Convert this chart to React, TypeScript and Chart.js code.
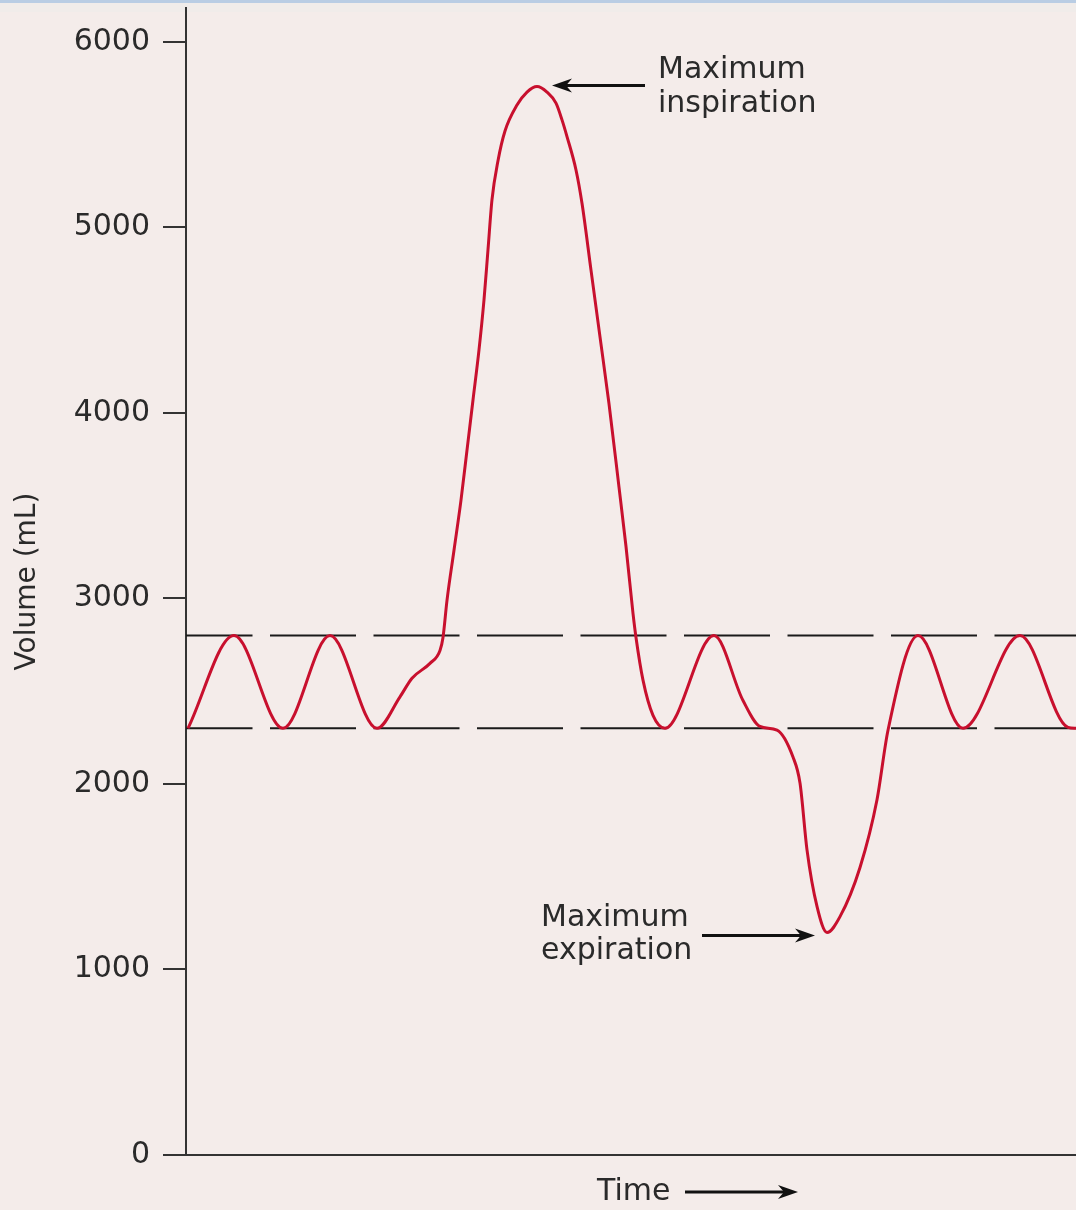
import React, { useEffect, useRef } from "react";
import { Chart, registerables } from "chart.js";

Chart.register(...registerables);

// ---- Data ----
const timeValues = [
  0.2, 4.8, 9.7, 14.4, 19.1, 21.4, 22.6, 24.4, 25.4,
  25.7, 26.1, 26.8, 27.5, 28.1, 28.7, 29.3, 29.8, 30.2, 30.6, 31.2, 31.9, 33.1, 34.1, 35.1,
  36.1, 37.0, 37.6, 38.1, 39.0, 39.6, 40.5, 41.4, 42.3, 43.3, 44.0, 44.7, 45.0, 45.7, 46.7,
  47.9, 52.8, 55.7, 57.4, 59.1, 60.7, 61.4, 62.1, 63.1,
  64.1, 65.4, 67.4, 69.1, 70.2, 73.2, 77.7, 83.4, 88.2, 89.0,
];
const volumeValues = [
  2300, 2800, 2300, 2800, 2300, 2470, 2570, 2650, 2720,
  2790, 2990, 3260, 3530, 3800, 4070, 4340, 4610, 4880, 5150, 5360, 5520, 5660, 5730, 5760,
  5730, 5670, 5580, 5490, 5310, 5130, 4770, 4410, 4050, 3600, 3280, 2920, 2790, 2560, 2370,
  2300, 2800, 2450, 2310, 2290, 2145, 2005, 1645, 1340,
  1200, 1285, 1550, 1915, 2290, 2800, 2300, 2800, 2305, 2300,
];
const tidalLevels = [2800, 2300];
const timeRange = [0, 89];
const volumeRange = [0, 6183];
const yTickValues = [0, 1000, 2000, 3000, 4000, 5000, 6000];
const yAxisTitle = "Volume (mL)";
const xAxisTitle = "Time";
const inspirationLabel = ["Maximum", "inspiration"];
const expirationLabel = ["Maximum", "expiration"];

const FONT = '"DejaVu Sans", "Liberation Sans", Arial, sans-serif';
const TEXT = "#2a2a2a";
const AXIS = "#333333";
const CURVE = "#c8102e";

function drawArrow(ctx: CanvasRenderingContext2D, x1: number, y: number, tipX: number) {
  const dir = Math.sign(tipX - x1);
  const headLen = 20;
  const half = 7;
  ctx.save();
  ctx.strokeStyle = "#111";
  ctx.fillStyle = "#111";
  ctx.lineWidth = 3;
  ctx.beginPath();
  ctx.moveTo(x1, y);
  ctx.lineTo(tipX - dir * headLen * 0.6, y);
  ctx.stroke();
  ctx.beginPath();
  ctx.moveTo(tipX, y);
  ctx.lineTo(tipX - dir * headLen, y - half);
  ctx.lineTo(tipX - dir * headLen * 0.7, y);
  ctx.lineTo(tipX - dir * headLen, y + half);
  ctx.closePath();
  ctx.fill();
  ctx.restore();
}

const annotationPlugin = {
  id: "annotations",
  afterDraw(chart: any) {
    const ctx: CanvasRenderingContext2D = chart.ctx;
    const meta = chart.getDatasetMeta(0);
    const maxIdx = volumeValues.indexOf(Math.max(...volumeValues));
    const minIdx = volumeValues.indexOf(Math.min(...volumeValues));
    const pMax = meta.data[maxIdx];
    const pMin = meta.data[minIdx];
    ctx.save();
    ctx.font = `30px ${FONT}`;
    ctx.fillStyle = TEXT;
    ctx.textBaseline = "alphabetic";
    ctx.textAlign = "left";

    // Maximum inspiration
    const tipIx = pMax.x + 15;
    const tipIy = pMax.y - 1;
    drawArrow(ctx, tipIx + 93, tipIy, tipIx);
    ctx.fillText(inspirationLabel[0], tipIx + 106, tipIy - 7);
    ctx.fillText(inspirationLabel[1], tipIx + 106, tipIy + 27);

    // Maximum expiration
    const tipEx = pMin.x - 12;
    const tipEy = pMin.y + 3;
    drawArrow(ctx, tipEx - 113, tipEy, tipEx);
    ctx.fillText(expirationLabel[0], tipEx - 274, tipEy - 9);
    ctx.fillText(expirationLabel[1], tipEx - 274, tipEy + 24);

    // Time label with arrow
    const area = chart.chartArea;
    ctx.fillText(xAxisTitle, area.left + 411, area.bottom + 45);
    drawArrow(ctx, area.left + 499, area.bottom + 37, area.left + 612);
    ctx.restore();
  },
};

export default function App() {
  const canvasRef = useRef<HTMLCanvasElement | null>(null);

  useEffect(() => {
    const canvas = canvasRef.current;
    if (!canvas) return;
    const curve = timeValues.map((t, i) => ({ x: t, y: volumeValues[i] }));
    const levelSets = tidalLevels.map((lv) => ({
      data: [
        { x: timeRange[0], y: lv },
        { x: timeRange[1], y: lv },
      ],
      borderColor: "#1a1a1a",
      borderWidth: 2,
      borderDash: [86, 17.5],
      borderDashOffset: 19.5,
      pointRadius: 0,
      tension: 0,
      order: 1,
    }));
    const chart = new Chart(canvas, {
      type: "line",
      data: {
        datasets: [
          {
            data: curve,
            borderColor: CURVE,
            borderWidth: 3,
            pointRadius: 0,
            cubicInterpolationMode: "monotone",
            fill: false,
            order: 0,
          },
          ...levelSets,
        ] as any,
      },
      options: {
        animation: false,
        responsive: false,
        maintainAspectRatio: false,
        layout: { padding: { top: 8, left: 0, right: 0, bottom: 0 } },
        plugins: {
          legend: { display: false },
          tooltip: { enabled: false },
        },
        scales: {
          x: {
            type: "linear",
            min: timeRange[0],
            max: timeRange[1],
            ticks: { display: false },
            grid: { display: false },
            border: { display: true, color: AXIS, width: 2 },
            afterFit: (s: any) => {
              s.height = 55;
              s.paddingLeft = 0;
              s.paddingRight = 0;
            },
          },
          y: {
            type: "linear",
            min: volumeRange[0],
            max: volumeRange[1],
            afterBuildTicks: (s: any) => {
              s.ticks = yTickValues.map((v) => ({ value: v }));
            },
            ticks: {
              padding: 13,
              color: TEXT,
              font: { family: FONT, size: 30 },
              callback: (v: any) => String(v),
            },
            grid: {
              drawOnChartArea: false,
              drawTicks: true,
              tickLength: 23,
              color: AXIS,
              lineWidth: 2,
            },
            border: { display: true, color: AXIS, width: 2 },
            title: {
              display: true,
              text: yAxisTitle,
              color: TEXT,
              font: { family: FONT, size: 28 },
              padding: { top: 11, bottom: 0 },
            },
            afterFit: (s: any) => {
              s.width = 186;
              s.paddingTop = 0;
              s.paddingBottom = 0;
            },
          },
        },
      } as any,
      plugins: [annotationPlugin],
    });
    return () => chart.destroy();
  }, []);

  return (
    <div
      style={{
        position: "absolute",
        left: 0,
        top: 0,
        width: 1076,
        height: 1210,
        background: "#f4ecea",
        overflow: "hidden",
      }}
    >
      <div style={{ position: "absolute", left: 0, top: 0, width: 1076, height: 3, background: "#b9cde4" }} />
      <div style={{ position: "absolute", left: 0, top: 3, width: 1076, height: 9, background: "#f0ecea" }} />
      <canvas
        ref={canvasRef}
        width={1076}
        height={1210}
        style={{ position: "absolute", left: 0, top: 0, width: 1076, height: 1210 }}
      />
    </div>
  );
}
